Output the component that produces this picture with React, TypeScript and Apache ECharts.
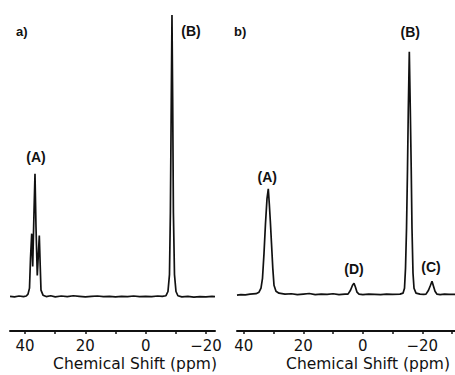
import React, { useEffect, useRef } from "react";
import * as echarts from "echarts";

// Spectrum a): [chemical shift (ppm), intensity]
const spectrumA: [number, number][] = [
  [45, 0.3], [43.5, 0.1], [42, 0.4], [40.5, 0.2], [39.6, 0.4], [39.03, 1.06], [38.53, 3.2],
  [38.2, 13.7], [37.8, 22.5], [37.47, 10.9], [37.04, 30], [36.71, 43.7], [36.38, 25],
  [35.95, 7.7], [35.6, 15], [35.28, 21.8], [34.95, 10.2], [34.72, 2.5], [34.05, 0.7],
  [33, 0.2], [31.5, 0.5], [30, 0.1], [28, 0.4], [26, 0.2], [24, 0.5], [22, 0.3], [20, 0.1],
  [18, 0.3], [16, 0.4], [14, 0.2], [12, 0.3], [10, 0.1], [8, 0.3], [6, 0.2], [4, 0.4],
  [2, 0.2], [0, 0.3], [-2, 0.2], [-4, 0.4], [-5.5, 0.3], [-6.74, 0.5], [-7.4, 2], [-7.9, 8],
  [-8.2, 30], [-8.5, 70], [-8.73, 100], [-8.96, 70], [-9.2, 30], [-9.56, 8], [-10.06, 2],
  [-10.7, 0.5], [-12, 0.1], [-14, 0.3], [-16, 0.0], [-18, 0.2], [-20, 0.1], [-22, 0.3], [-23, 0.2],
];

// Spectrum b): [chemical shift (ppm), intensity]
const spectrumB: [number, number][] = [
  [42.3, 0.7], [41, 0.9], [39.5, 0.8], [37.93, 1.06], [35.91, 1.23], [34.9, 1.76], [34.23, 3.17],
  [33.73, 6.69], [33.22, 15.5], [32.72, 26.1], [32.21, 34.9], [31.78, 38.4], [31.44, 33.1],
  [31.1, 27.1], [30.7, 19.0], [30.26, 10.2], [29.86, 4.2], [29.19, 2.1], [28.18, 1.4],
  [26.16, 1.06], [24, 1.2], [22, 0.9], [20, 1.1], [18, 1.3], [16, 0.9], [14, 1.1], [12, 1.0],
  [10, 1.2], [8, 0.9], [6, 1.1], [4.98, 1.06], [4.14, 2.46], [3.46, 4.23], [2.96, 4.93],
  [2.46, 3.52], [1.95, 1.76], [1.28, 1.06], [0, 0.9], [-2, 1.1], [-4, 1.0], [-6, 0.9],
  [-8, 1.1], [-10, 1.0], [-12.51, 1.06], [-13.52, 1.41], [-14.02, 3.17], [-14.36, 10.2],
  [-14.7, 24.3], [-15.03, 45.4], [-15.3, 66.5], [-15.64, 87.0], [-15.97, 66.5], [-16.28, 45.4],
  [-16.54, 24.3], [-16.88, 8.45], [-17.22, 3.17], [-17.89, 1.41], [-19.23, 1.06], [-20.5, 1.0],
  [-21.25, 1.06], [-22.09, 2.46], [-22.76, 4.23], [-23.27, 5.63], [-23.77, 3.87], [-24.28, 2.11],
  [-24.95, 1.06], [-26, 0.9], [-27.5, 1.1], [-29, 1.0], [-31, 1.0],
];

// Peak labels: [name, ppm, intensity]
const peaksA: [string, number, number][] = [
  ["(A)", 36.71, 43.7],
  ["(B)", -8.73, 100],
];
const peaksB: [string, number, number][] = [
  ["(A)", 31.78, 38.4],
  ["(D)", 2.96, 4.93],
  ["(B)", -15.64, 87.0],
  ["(C)", -23.27, 5.63],
];

const tickLabels = [40, 20, 0, -20];
const tickMarks = [40, 30, 20, 10, 0, -10, -20, -30];

const labelOffsetsA: [number, number][] = [[1, -17], [19, 16]];
const labelOffsetsB: [number, number][] = [[-1, -12], [0, -14], [1, -20], [-1, -14]];

const INK = "#111";

export default function App() {
  const ref = useRef<HTMLDivElement>(null);
  useEffect(() => {
    if (!ref.current) return;
    const chart = echarts.init(ref.current, undefined, { renderer: "svg" });
    const xAxisBase = (min: number, max: number, gridIndex: number) => ({
      type: "value",
      gridIndex,
      min,
      max,
      inverse: true,
      splitLine: { show: false },
      axisLine: { show: true, onZero: false, lineStyle: { color: INK, width: 2 } },
      axisTick: {
        show: true,
        inside: false,
        length: 3,
        customValues: tickMarks,
        lineStyle: { color: INK, width: 1.5 },
      },
      axisLabel: {
        show: true,
        customValues: tickLabels,
        margin: 7,
        color: INK,
        fontSize: 15,
        lineHeight: 15,
        fontFamily: "DejaVu Sans",
        formatter: (v: number) => (v < 0 ? "\u2212" + Math.abs(v) : String(v)),
      },
    });
    const yAxisBase = (gridIndex: number) => ({
      type: "value",
      gridIndex,
      min: -12,
      max: 100,
      show: false,
    });
    const mk = (peaks: [string, number, number][], offs: [number, number][]) => ({
      symbol: "circle",
      symbolSize: 1,
      itemStyle: { color: "rgba(0,0,0,0)" },
      label: {
        show: true,
        position: "inside",
        formatter: "{b}",
        color: INK,
        fontSize: 14,
        fontWeight: "bold",
        fontFamily: "Liberation Sans",
      },
      data: peaks.map((p, i) => ({
        name: p[0],
        coord: [p[1], p[2]],
        label: { offset: offs[i] },
      })),
    });
    const title = (x: number) => ({
      type: "text",
      x,
      y: 364,
      style: {
        text: "Chemical Shift (ppm)",
        font: "15.5px DejaVu Sans",
        lineHeight: 15,
        fill: INK,
        align: "center",
        verticalAlign: "middle",
      },
    });
    chart.setOption({
      animation: false,
      backgroundColor: "#fff",
      grid: [
        { left: 10, right: 240, top: 15, bottom: 44 },
        { left: 237, right: 0, top: 15, bottom: 44 },
      ],
      xAxis: [xAxisBase(-23, 45, 0), xAxisBase(-31, 42.3, 1)],
      yAxis: [yAxisBase(0), yAxisBase(1)],
      series: [
        {
          type: "line",
          xAxisIndex: 0,
          yAxisIndex: 0,
          data: spectrumA,
          symbol: "none",
          lineStyle: { color: INK, width: 1.7 },
          markPoint: mk(peaksA, labelOffsetsA),
        },
        {
          type: "line",
          xAxisIndex: 1,
          yAxisIndex: 1,
          data: spectrumB,
          symbol: "none",
          lineStyle: { color: INK, width: 1.7 },
          markPoint: mk(peaksB, labelOffsetsB),
        },
      ],
      graphic: [
        {
          type: "text",
          x: 16,
          y: 31,
          style: { text: "a)", font: "bold 13px Liberation Sans", fill: INK, verticalAlign: "middle" },
        },
        {
          type: "text",
          x: 234,
          y: 31,
          style: { text: "b)", font: "bold 13px Liberation Sans", fill: INK, verticalAlign: "middle" },
        },
        title(135),
        title(368),
      ],
    });
    return () => chart.dispose();
  }, []);
  return (
    <div
      ref={ref}
      style={{ position: "fixed", left: 0, top: 0, width: 455, height: 375 }}
    />
  );
}
